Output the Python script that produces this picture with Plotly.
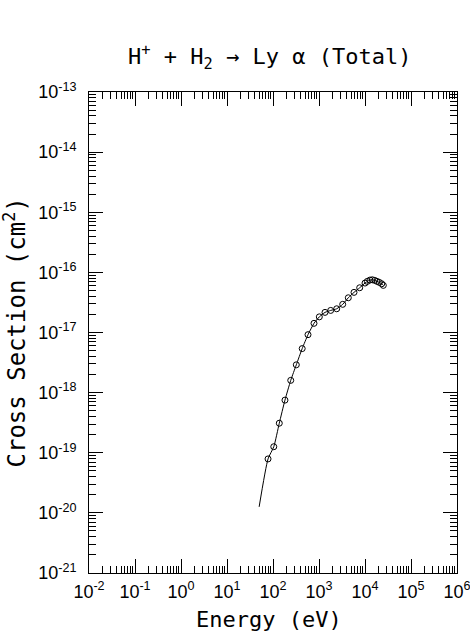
import plotly.graph_objects as go

# Data (Energy in eV, cross section in cm^2)
energy = [78, 104, 137, 182, 243, 321, 431, 577, 778, 1016, 1350, 1796, 2425, 3275,
          4335, 5768, 7670, 10000, 11220, 12850, 14420, 16250, 18240, 20460, 23070, 25000]
sigma = [7.9e-20, 1.26e-19, 3.1e-19, 7.5e-19, 1.6e-18, 2.9e-18, 5.4e-18, 9.2e-18,
         1.42e-17, 1.82e-17, 2.16e-17, 2.33e-17, 2.48e-17, 2.94e-17, 3.78e-17,
         4.65e-17, 5.55e-17, 6.64e-17, 7.08e-17, 7.45e-17, 7.53e-17, 7.36e-17,
         7.08e-17, 6.82e-17, 6.46e-17, 6.08e-17]

# Fitted curve
fit_energy = [50] + energy
fit_sigma = [1.26e-20] + sigma

x_tick_vals = [1e-2, 1e-1, 1e0, 1e1, 1e2, 1e3, 1e4, 1e5, 1e6]
x_tick_text = ["10<sup>-2</sup>", "10<sup>-1</sup>", "10<sup>0</sup>", "10<sup>1</sup>",
               "10<sup>2</sup>", "10<sup>3</sup>", "10<sup>4</sup>", "10<sup>5</sup>",
               "10<sup>6</sup>"]
y_tick_vals = [1e-21, 1e-20, 1e-19, 1e-18, 1e-17, 1e-16, 1e-15, 1e-14, 1e-13]
y_tick_text = ["10<sup>-21</sup>", "10<sup>-20</sup>", "10<sup>-19</sup>", "10<sup>-18</sup>",
               "10<sup>-17</sup>", "10<sup>-16</sup>", "10<sup>-15</sup>", "10<sup>-14</sup>",
               "10<sup>-13</sup>"]

title_text = "H<sup>+</sup> + H<sub>2</sub> → Ly α (Total)"
x_title = "Energy (eV)"
y_title = "Cross Section (cm<sup>2</sup>)"

def minor_vals(lo, hi):
    vals = []
    for e in range(lo, hi):
        for k in range(2, 10):
            vals.append(k * 10.0 ** e)
    return vals

FONT = "Liberation Sans"
TFONT = "DejaVu Sans Mono"

fig = go.Figure()
fig.add_trace(go.Scatter(x=fit_energy, y=fit_sigma, mode="lines",
                         line=dict(color="black", width=1, shape="spline", smoothing=0.6),
                         showlegend=False, hoverinfo="skip"))
fig.add_trace(go.Scatter(x=energy, y=sigma, mode="markers",
                         marker=dict(symbol="circle-open", size=6, color="black",
                                     line=dict(width=1, color="black")),
                         showlegend=False))

axis_common = dict(
    type="log", showgrid=False, zeroline=False, showline=True, linecolor="black",
    linewidth=1, mirror="ticks", ticks="inside", ticklen=14, tickwidth=1,
    tickcolor="black", tickmode="array", ticklabeloverflow="allow",
    tickfont=dict(family=FONT, size=18, color="black"),
)

fig.update_xaxes(**axis_common, range=[-2, 6], tickvals=x_tick_vals, ticktext=x_tick_text,
                 ticklabelstandoff=2,
                 minor=dict(ticks="inside", ticklen=7, tickwidth=1, tickcolor="black",
                            tickmode="array", tickvals=minor_vals(-2, 6), showgrid=False))
fig.update_yaxes(**axis_common, range=[-21, -13], tickvals=y_tick_vals, ticktext=y_tick_text,
                 ticklabelstandoff=8,
                 minor=dict(ticks="inside", ticklen=7, tickwidth=1, tickcolor="black",
                            tickmode="array", tickvals=minor_vals(-21, -13), showgrid=False))

fig.update_layout(
    width=470, height=634,
    margin=dict(l=89, r=13, t=92, b=61, autoexpand=False),
    plot_bgcolor="white", paper_bgcolor="white",
    font=dict(family=FONT, color="black"),
    annotations=[
        dict(text=title_text, xref="paper", yref="paper", x=0.49, y=1, yshift=35,
             xanchor="center", yanchor="middle", showarrow=False,
             font=dict(family=TFONT, size=22, color="black")),
        dict(text=x_title, xref="paper", yref="paper", x=0.49, y=0, yshift=-46,
             xanchor="center", yanchor="middle", showarrow=False,
             font=dict(family=TFONT, size=22, color="black")),
        dict(text=y_title, xref="paper", yref="paper", x=0, xshift=-75, y=0.5,
             xanchor="center", yanchor="middle", showarrow=False, textangle=-90,
             font=dict(family=TFONT, size=24, color="black")),
    ],
)

fig.write_html("out.html", config={"displayModeBar": False},
               post_script="document.body.style.margin='0';")
